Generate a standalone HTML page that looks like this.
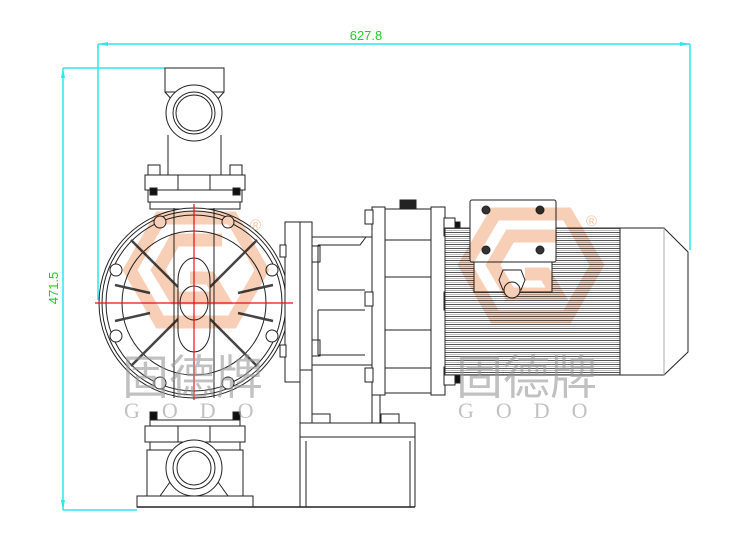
<!DOCTYPE html>
<html><head><meta charset="utf-8"><style>
html,body{margin:0;padding:0;background:#fff;}
svg{display:block;}
</style></head><body>
<svg width="752" height="555" viewBox="0 0 752 555" xmlns="http://www.w3.org/2000/svg">
<defs>
<pattern id="fins" x="0" y="228" width="4" height="4" patternUnits="userSpaceOnUse">
<rect width="4" height="4" fill="#fff"/><line x1="0" y1="0.5" x2="4" y2="0.5" stroke="#555" stroke-width="1"/><line x1="0" y1="2.5" x2="4" y2="2.5" stroke="#bbb" stroke-width="1"/>
</pattern>
</defs>

<!-- dimension lines -->
<g stroke="#2ee6ee" stroke-width="1.5" fill="none">
<line x1="98" y1="44" x2="690" y2="44"/>
<line x1="98" y1="44" x2="98" y2="300"/>
<line x1="690" y1="44" x2="690" y2="250"/>
<line x1="63" y1="68" x2="63" y2="510"/>
<line x1="63" y1="68" x2="165" y2="68"/>
<line x1="63" y1="510" x2="137" y2="510"/>
</g>
<g fill="#2ee6ee">
<polygon points="98,44 108,42 108,46"/><polygon points="690,44 680,42 680,46"/>
<polygon points="63,68 61,78 65,78"/><polygon points="63,510 61,500 65,500"/>
</g>
<text x="366" y="40" font-family="Liberation Sans, sans-serif" font-size="13" fill="#22cc22" text-anchor="middle">627.8</text>
<text x="0" y="0" font-family="Liberation Sans, sans-serif" font-size="13" fill="#22cc22" text-anchor="middle" transform="translate(58,288) rotate(-90)">471.5</text>

<!-- pump drawing -->
<g stroke="#222" stroke-width="1" fill="none">
<rect x="165" y="68" width="59" height="24" fill="#fff"/>
<path d="M165,92 L172,100 M224,92 L217,100"/>
<circle cx="194" cy="113" r="28" fill="#fff"/>
<circle cx="194" cy="113" r="21"/><circle cx="194" cy="113" r="18"/>
<path d="M168,135 L168,175 M221,135 L221,175"/>
<rect x="145" y="175" width="100" height="15" fill="#fff"/>
<rect x="148" y="190" width="94" height="12" fill="#fff"/>
<rect x="150" y="202" width="90" height="7" fill="#fff"/>
<path d="M178,175 V190 M210,175 V190"/>
<rect x="148" y="165" width="12" height="10"/><rect x="230" y="165" width="12" height="10"/>
<rect x="150" y="188" width="7" height="7" fill="#111"/><rect x="233" y="188" width="7" height="7" fill="#111"/>
<circle cx="194" cy="303" r="95" fill="#fff"/>
<circle cx="194" cy="303" r="92"/>
<circle cx="194" cy="303" r="88"/>
<circle cx="194" cy="303" r="72"/>
<g stroke="#444" stroke-width="2.5">
<line x1="131" y1="240" x2="178" y2="287"/><line x1="257" y1="240" x2="210" y2="287"/>
<line x1="131" y1="366" x2="178" y2="319"/><line x1="257" y1="366" x2="210" y2="319"/>
<line x1="115" y1="285" x2="150" y2="293"/><line x1="273" y1="285" x2="238" y2="293"/>
<line x1="115" y1="321" x2="150" y2="313"/><line x1="273" y1="321" x2="238" y2="313"/>
</g>
<g fill="#fff">
<circle cx="160" cy="222" r="6"/><circle cx="228" cy="222" r="6"/>
<circle cx="116" cy="270" r="6"/><circle cx="272" cy="270" r="6"/>
<circle cx="116" cy="336" r="6"/><circle cx="272" cy="336" r="6"/>
<circle cx="160" cy="383" r="6"/><circle cx="228" cy="383" r="6"/>
</g>
<rect x="178" y="258" width="32" height="94" rx="16" ry="22" fill="#fff"/>
<ellipse cx="194" cy="303" rx="14" ry="17"/>
<path d="M174,208 L174,398 M214,208 L214,398"/>
<rect x="150" y="420" width="90" height="6" fill="#fff"/>
<rect x="145" y="426" width="100" height="16" fill="#fff"/>
<path d="M178,426 V442 M210,426 V442"/>
<rect x="150" y="412" width="7" height="8" fill="#111"/><rect x="233" y="412" width="7" height="8" fill="#111"/>
<rect x="150" y="442" width="90" height="8" fill="#fff"/>
<rect x="147" y="450" width="96" height="46" fill="#fff"/>
<path d="M160,496 L175,475 M228,496 L213,475"/>
<circle cx="194" cy="468" r="28" fill="#fff"/>
<circle cx="194" cy="468" r="21"/><circle cx="194" cy="468" r="17"/>
<rect x="137" y="496" width="116" height="11" fill="#fff"/>
<line x1="137" y1="507" x2="415" y2="507" stroke-width="1.5"/>
<rect x="300" y="423" width="115" height="14" fill="#fff"/>
<path d="M300,437 V507 M415,437 V507 M306,441 V507 M410,441 V507"/>
<rect x="312" y="414" width="18" height="9"/><rect x="381" y="414" width="18" height="9"/>
<rect x="285" y="222" width="15" height="160" fill="#fff"/>
<rect x="300" y="222" width="12" height="148" fill="#fff"/>
<path d="M300,370 V423 M312,370 V423 M372,395 V423 M380,395 V423"/>
<rect x="312" y="237" width="60" height="128" fill="#fff"/>
<path d="M318,245 H360 L366,237 M318,245 V290 M318,310 H365 M318,355 H365 M318,290 H365 M318,310 V355"/>
<rect x="280" y="245" width="6" height="12" fill="#fff"/><rect x="280" y="345" width="6" height="12" fill="#fff"/>
<rect x="312" y="246" width="8" height="16"/><rect x="312" y="340" width="8" height="16"/>
<rect x="372" y="207" width="13" height="188" fill="#fff"/>
<rect x="385" y="209" width="46" height="184" fill="#fff"/>
<rect x="431" y="207" width="14" height="188" fill="#fff"/>
<path d="M385,240 H431 M385,277 H431 M385,330 H431 M385,368 H431"/>
<rect x="400" y="200" width="16" height="9" fill="#222"/>
<rect x="365" y="210" width="8" height="14" fill="#fff"/><rect x="365" y="292" width="8" height="14" fill="#fff"/><rect x="365" y="368" width="8" height="14" fill="#fff"/>
<rect x="444" y="218" width="11" height="18" fill="#fff"/><rect x="444" y="292" width="11" height="18" fill="#fff"/><rect x="444" y="367" width="11" height="18" fill="#fff"/>
<rect x="455" y="222" width="5" height="12" fill="#111"/><rect x="455" y="296" width="5" height="12" fill="#111"/><rect x="455" y="371" width="5" height="12" fill="#111"/>
<rect x="445" y="228" width="175" height="147" fill="url(#fins)" stroke="#333"/>
<path d="M620,228 H664 L688,252 V352 L664,375 H620 Z" fill="#fff"/>
<line x1="664" y1="228" x2="664" y2="375" stroke="#aaa"/>
<rect x="470" y="200" width="86" height="62" rx="2" fill="#fff"/>
<rect x="474" y="262" width="78" height="30" fill="#fff"/>
<g fill="#333"><circle cx="486" cy="210" r="4"/><circle cx="540" cy="210" r="4"/><circle cx="486" cy="250" r="4"/><circle cx="540" cy="250" r="4"/></g>
<polygon points="503,270 521,270 525,280 521,290 503,290 499,280" fill="#fff"/>
<circle cx="512" cy="290" r="8" fill="#fff"/>
</g>

<!-- red centerlines -->
<g stroke="#ee1111" stroke-width="1.2">
<line x1="95" y1="303" x2="293" y2="303"/>
<line x1="194" y1="204" x2="194" y2="400"/>
</g>

<!-- watermark logos on top -->
<g fill="none" stroke="#f0a070" stroke-width="13" opacity="0.5" stroke-linejoin="miter" style="mix-blend-mode:multiply">
<polygon points="160,218 232,218 262,270 232,322 160,322 130,270"/>
<polyline points="222,240 175,240 158,270 175,298 222,298 210,278 190,278"/>
<polygon points="495,214 567,214 597,265 567,317 495,317 465,265"/>
<polyline points="557,236 510,236 493,265 510,294 557,294 545,274 525,274"/>
</g>
<g font-family="Liberation Sans, sans-serif" font-size="15" fill="#f2b48e" opacity="0.8">
<text x="250" y="230">®</text><text x="586" y="226">®</text>
</g>

<!-- chinese watermark -->
<g fill="#999" opacity="0.6" font-family="Liberation Serif, 'Noto Serif CJK SC', serif">
<text x="122" y="394" font-size="47" font-family="'Noto Sans CJK SC', sans-serif" font-weight="400">固德牌</text>
<text x="456" y="394" font-size="47" font-family="'Noto Sans CJK SC', sans-serif" font-weight="400">固德牌</text>
<text x="124" y="418" font-size="22" letter-spacing="22">GODO</text>
<text x="458" y="418" font-size="22" letter-spacing="22">GODO</text>
</g>
</svg>
</body></html>
